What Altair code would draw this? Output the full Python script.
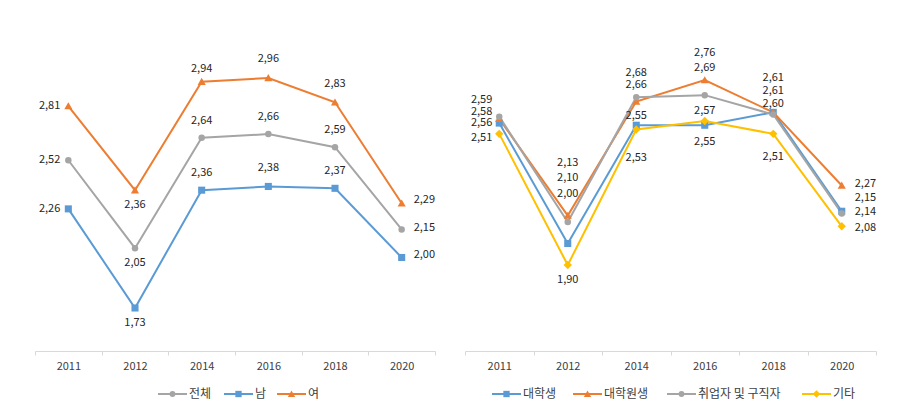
import altair as alt
import pandas as pd

years = ["2011", "2012", "2014", "2016", "2018", "2020"]

# Left panel
left_names = ["전체", "남", "여"]
total = [2.52, 2.05, 2.64, 2.66, 2.59, 2.15]
male = [2.26, 1.73, 2.36, 2.38, 2.37, 2.00]
female = [2.81, 2.36, 2.94, 2.96, 2.83, 2.29]

# Right panel
right_names = ["대학생", "대학원생", "취업자 및 구직자", "기타"]
undergrad = [2.56, 2.00, 2.55, 2.55, 2.61, 2.15]
grad = [2.58, 2.13, 2.66, 2.76, 2.61, 2.27]
employed = [2.59, 2.10, 2.68, 2.69, 2.60, 2.14]
other = [2.51, 1.90, 2.53, 2.57, 2.51, 2.08]

# ---- styling (kept apart from the data) ----
FONT = "Noto Sans CJK KR"
BLUE, ORANGE, GRAY, YELLOW = "#5B9BD5", "#ED7D31", "#A5A5A5", "#FFC000"
TRI = "M0,-0.95L1,0.8H-1Z"

# label placement per point: (side, dy px); side L=left, C=centre, R=right
left_place = {
    "전체": [("L", 0), ("C", 15), ("C", -17), ("C", -17), ("C", -17), ("R", -1)],
    "남": [("L", 0), ("C", 15), ("C", -17), ("C", -18), ("C", -17), ("R", -3)],
    "여": [("L", 0), ("C", 15), ("C", -13), ("C", -19), ("C", -18), ("R", -3)],
}
right_place = {
    "대학생": [("L", 0), ("C", -50), ("C", -9), ("C", 17), ("C", -34), ("R", -13)],
    "대학원생": [("L", -7), ("C", -53), ("C", -17), ("C", -27), ("C", -21), ("R", -1)],
    "취업자 및 구직자": [("L", -17), ("C", -44), ("C", -24), ("C", -27), ("C", -11), ("R", -1)],
    "기타": [("L", 4), ("C", 15), ("C", 28), ("C", -10), ("C", 23), ("R", 2)],
}

H = 322


def panel(names, series, colors, shapes, sizes, place, width, ymax, legend_x, lx_side):
    rows = []
    for n, vals in zip(names, series):
        for i, (yr, v) in enumerate(zip(years, vals)):
            side, dy = place[n][i]
            rows.append({"series": n, "year": yr, "v": v, "side": side, "dy": dy})
    df = pd.DataFrame(rows)

    color = alt.Color("series:N", scale=alt.Scale(domain=names, range=colors), legend=None)
    shape = alt.Shape("series:N", scale=alt.Scale(domain=names, range=shapes), legend=None)
    x = alt.X(
        "year:O",
        sort=years,
        scale=alt.Scale(type="band", paddingInner=0, paddingOuter=0),
        axis=alt.Axis(
            title=None, labelAngle=0, tickBand="extent", domainColor="#D9D9D9",
            tickColor="#D9D9D9", tickSize=4, labelPadding=5, labelFont=FONT,
            labelFontSize=11, labelColor="#404040", grid=False,
        ),
    )
    y = alt.Y("v:Q", scale=alt.Scale(domain=[1.5, ymax], nice=False, zero=False), axis=None)

    base = alt.Chart(df).encode(x=x, y=y, color=color)
    layers = [base.mark_line(strokeWidth=2)]
    for n, sz in zip(names, sizes):
        layers.append(
            base.transform_filter(alt.datum.series == n)
            .mark_point(filled=True, opacity=1, size=sz)
            .encode(shape=shape)
        )

    lab = alt.Chart(df).transform_calculate(
        txt="replace(format(datum.v, '.2f'), '.', ',')"
    ).encode(x=x, y=y, text="txt:N")
    combos = sorted(set((r["side"], r["dy"]) for r in rows))
    for side, dy in combos:
        align = {"L": "right", "C": "center", "R": "left"}[side]
        dx = {"L": lx_side[0], "C": 0, "R": lx_side[1]}[side]
        layers.append(
            lab.transform_filter(
                (alt.datum.side == side) & (alt.datum.dy == dy)
            ).mark_text(
                align=align, baseline="middle", dx=dx, dy=dy, font=FONT,
                fontSize=11, color="#262626",
            )
        )

    # legend beneath the axis
    leg = pd.DataFrame({
        "series": names,
        "x0": legend_x,
    })
    leg["x1"] = leg["x0"] + 29
    leg["xm"] = leg["x0"] + 14.5
    leg["xt"] = leg["x0"] + 31
    lbase = alt.Chart(leg).encode(color=color)
    layers.append(
        lbase.mark_rule(strokeWidth=2).encode(
            x=alt.X("x0:Q", scale=None), x2="x1:Q", y=alt.value(365)
        )
    )
    for n, sz in zip(names, sizes):
        layers.append(
            lbase.transform_filter(alt.datum.series == n)
            .mark_point(filled=True, opacity=1, size=sz * 0.8)
            .encode(x=alt.X("xm:Q", scale=None), y=alt.value(365), shape=shape)
        )
    layers.append(
        alt.Chart(leg).mark_text(
            align="left", baseline="middle", font=FONT, fontSize=12, color="#404040"
        ).encode(x=alt.X("xt:Q", scale=None), y=alt.value(365), text="series:N")
    )
    return alt.layer(*layers).resolve_scale(x="shared").properties(width=width, height=H)


left = panel(
    left_names, [total, male, female], [GRAY, BLUE, ORANGE],
    ["circle", "square", TRI], [42, 50, 66], left_place, 400, 1.5 + H / 187,
    [123, 189, 242], (-8, 12),
)
right = panel(
    right_names, [undergrad, grad, employed, other], [BLUE, ORANGE, GRAY, YELLOW],
    ["square", TRI, "circle", "diamond"], [50, 66, 42, 70], right_place, 411, 1.5 + H / 215,
    [27, 108, 202, 337], (-7, 13),
)

chart = (
    alt.hconcat(left, right, spacing=28)
    .resolve_scale(color="independent", shape="independent")
    .properties(padding={"left": 26, "top": 21, "right": 5, "bottom": 5})
    .configure_view(stroke=None)
)

chart.save("out.html", embed_options={"renderer": "svg", "actions": False})
